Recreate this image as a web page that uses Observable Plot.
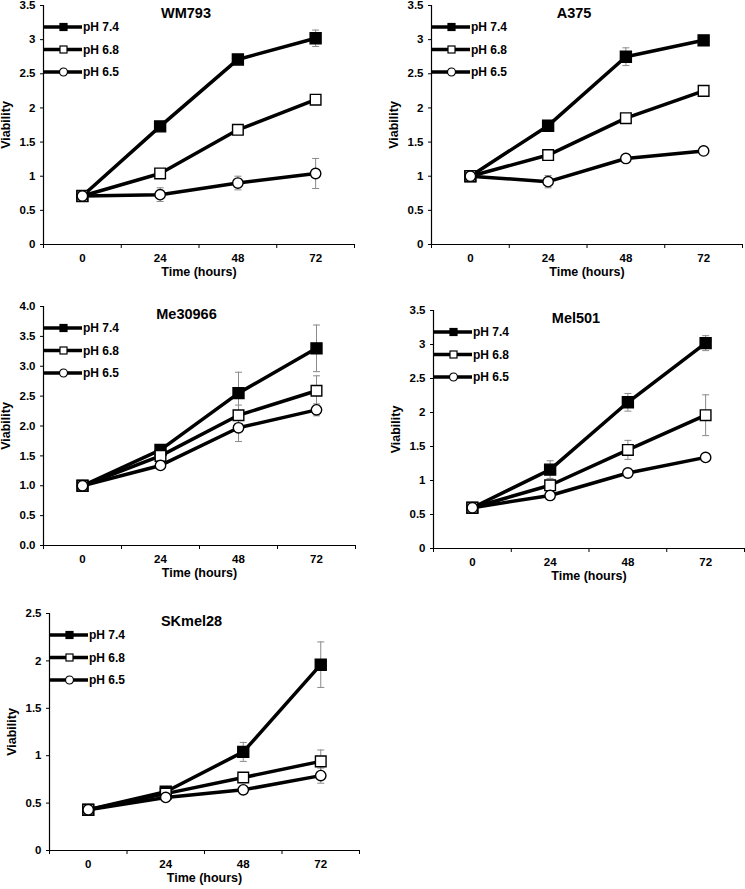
<!DOCTYPE html>
<html><head><meta charset="utf-8">
<script src="https://cdn.jsdelivr.net/npm/d3@7"></script>
<script src="https://cdn.jsdelivr.net/npm/@observablehq/plot@0.6"></script>
<style>
body{margin:0;background:#fff;}
#root{position:relative;width:745px;height:889px;font-family:"Liberation Sans",Arial,sans-serif;}
.panel{position:absolute;}
.legend{position:absolute;}
</style></head><body><div id="root"></div>
<script>
// ---- data ----
const times = [0, 24, 48, 72];
const seriesNames = ["pH 7.4", "pH 6.8", "pH 6.5"];
const panelNames = ["WM793", "A375", "Me30966", "Mel501", "SKmel28"];
const yMax = [3.5, 3.5, 4.0, 3.5, 2.5];

const meanWM793 = [[0.71, 1.73, 2.71, 3.02], [0.71, 1.04, 1.68, 2.12], [0.71, 0.73, 0.90, 1.04]];
const errWM793  = [[0, 0.03, 0.03, 0.12], [0, 0.03, 0.04, 0.04], [0, 0.10, 0.10, 0.22]];
const meanA375  = [[1.00, 1.74, 2.75, 2.99], [1.00, 1.31, 1.85, 2.25], [1.00, 0.92, 1.26, 1.37]];
const errA375   = [[0, 0.07, 0.13, 0.03], [0, 0.03, 0.03, 0.03], [0, 0.09, 0.03, 0.03]];
const meanMe30966 = [[1.00, 1.60, 2.55, 3.30], [1.00, 1.50, 2.18, 2.59], [1.00, 1.34, 1.97, 2.27]];
const errMe30966  = [[0, 0.03, 0.35, 0.39], [0, 0.03, 0.17, 0.25], [0, 0.03, 0.23, 0.10]];
const meanMel501 = [[0.60, 1.16, 2.15, 3.02], [0.60, 0.93, 1.45, 1.96], [0.60, 0.78, 1.11, 1.34]];
const errMel501  = [[0, 0.13, 0.13, 0.11], [0, 0.05, 0.14, 0.30], [0, 0.03, 0.03, 0.03]];
const meanSKmel28 = [[0.43, 0.62, 1.04, 1.96], [0.43, 0.60, 0.77, 0.94], [0.43, 0.56, 0.64, 0.79]];
const errSKmel28  = [[0, 0.03, 0.10, 0.24], [0, 0.03, 0.04, 0.12], [0, 0.03, 0.03, 0.08]];

const means = [meanWM793, meanA375, meanMe30966, meanMel501, meanSKmel28];
const errs = [errWM793, errA375, errMe30966, errMel501, errSKmel28];

// ---- layout (positions / styles) ----
const layout = [
  {left: 0,   top: 0,   width: 372, height: 290, ml: 43, mr: 18, mt: 5,  mb: 46, fmt: d3.format("~g")},
  {left: 372, top: 0,   width: 373, height: 290, ml: 59, mr: 3,  mt: 5,  mb: 46, fmt: d3.format("~g")},
  {left: 0,   top: 290, width: 372, height: 300, ml: 43, mr: 17, mt: 16, mb: 45, fmt: d3.format(".1f")},
  {left: 372, top: 290, width: 373, height: 300, ml: 61, mr: 1,  mt: 20, mb: 42, fmt: d3.format("~g")},
  {left: 0,   top: 590, width: 372, height: 299, ml: 49, mr: 13, mt: 23, mb: 39, fmt: d3.format("~g")}
];
const symbols = ["square", "square", "circle"];
const fills = ["black", "white", "white"];
const radii = [6.2, 6.0, 5.2];
const errColor = "#8a8a8a";
const capSymbol = {draw(ctx) { ctx.moveTo(-3.5, 0); ctx.lineTo(3.5, 0); }};

const root = document.getElementById("root");
const step = times[1] - times[0];
const xDomain = [times[0] - step / 2, times[times.length - 1] + step / 2];
const boundaries = [...times.map(t => t - step / 2), times[times.length - 1] + step / 2];

panelNames.forEach((name, p) => {
  const L = layout[p];
  const rows = [];
  seriesNames.forEach((s, si) => times.forEach((t, ti) => {
    rows.push({series: s, si, time: t, v: means[p][si][ti], e: errs[p][si][ti]});
  }));
  const errRows = rows.filter(d => d.e > 0);
  const caps = errRows.flatMap(d => [{time: d.time, y: d.v - d.e}, {time: d.time, y: d.v + d.e}]);

  const marks = [
    Plot.ruleX(errRows, {x: "time", y1: d => d.v - d.e, y2: d => d.v + d.e, stroke: errColor, strokeWidth: 1}),
    Plot.dot(caps, {x: "time", y: "y", symbol: capSymbol, r: 3, stroke: errColor, strokeWidth: 1, fill: "none"}),
  ];
  seriesNames.forEach((s, si) => {
    const sr = rows.filter(d => d.si === si);
    marks.push(Plot.line(sr, {x: "time", y: "v", stroke: "black", strokeWidth: 3.5}));
  });
  seriesNames.forEach((s, si) => {
    const sr = rows.filter(d => d.si === si);
    marks.push(Plot.dot(sr, {x: "time", y: "v", symbol: symbols[si], r: radii[si], fill: fills[si], stroke: "black", strokeWidth: 1.4}));
  });
  marks.push(
    Plot.ruleY([0], {stroke: "black", strokeWidth: 1.2}),
    Plot.ruleX([xDomain[0]], {stroke: "black", strokeWidth: 1.2}),
    Plot.axisY({ticks: d3.range(0, yMax[p] + 1e-9, 0.5), tickSize: 3, tickPadding: 5, tickFormat: L.fmt, label: null, fontSize: 11.5, fontWeight: "bold"}),
    Plot.axisX(times, {tickSize: 0, tickPadding: 9, label: null, fontSize: 11.5, fontWeight: "bold"}),
    Plot.axisX(boundaries, {tickSize: 4, tickFormat: () => "", label: null}),
    Plot.text(["Viability"], {frameAnchor: "left", rotate: -90, dx: -38, fontSize: 12.5, fontWeight: "bold", textAnchor: "middle", lineAnchor: "middle"}),
    Plot.text(["Time (hours)"], {frameAnchor: "bottom", dy: 27, fontSize: 12.5, fontWeight: "bold", textAnchor: "middle", lineAnchor: "middle"}),
    Plot.text([name], {frameAnchor: "top", dx: -13, dy: 8, fontSize: 14.5, fontWeight: "bold", lineAnchor: "middle"})
  );

  const chart = Plot.plot({
    width: L.width, height: L.height,
    marginLeft: L.ml, marginRight: L.mr, marginTop: L.mt, marginBottom: L.mb,
    x: {type: "linear", domain: xDomain},
    y: {domain: [0, yMax[p]]},
    style: {fontFamily: "'Liberation Sans', Arial, sans-serif", color: "black", background: "white", overflow: "visible"},
    marks
  });
  const div = document.createElement("div");
  div.className = "panel";
  div.style.left = L.left + "px";
  div.style.top = L.top + "px";
  div.appendChild(chart);

  // legend (HTML overlay, like Plot legends)
  const lg = d3.create("svg").attr("width", 90).attr("height", 70)
    .attr("class", "legend")
    .style("left", (L.ml + 1) + "px").style("top", (L.mt + 22 - 11) + "px")
    .style("overflow", "visible");
  seriesNames.forEach((s, si) => {
    const g = lg.append("g").attr("transform", `translate(0,${11 + si * 22.5})`);
    g.append("line").attr("x1", 0).attr("x2", 38).attr("stroke", "black").attr("stroke-width", 3.5);
    if (symbols[si] === "square") {
      g.append("rect").attr("x", 16).attr("y", -3.5).attr("width", 7).attr("height", 7)
        .attr("fill", fills[si]).attr("stroke", "black").attr("stroke-width", 1.2);
    } else {
      g.append("circle").attr("cx", 19.5).attr("r", 4).attr("fill", "white").attr("stroke", "black").attr("stroke-width", 1.2);
    }
    g.append("text").attr("x", 39).attr("dy", "0.35em").attr("font-size", 12).attr("font-weight", "bold")
      .attr("font-family", "'Liberation Sans', Arial, sans-serif").text(s);
  });
  div.appendChild(lg.node());
  root.appendChild(div);
});
</script></body></html>
